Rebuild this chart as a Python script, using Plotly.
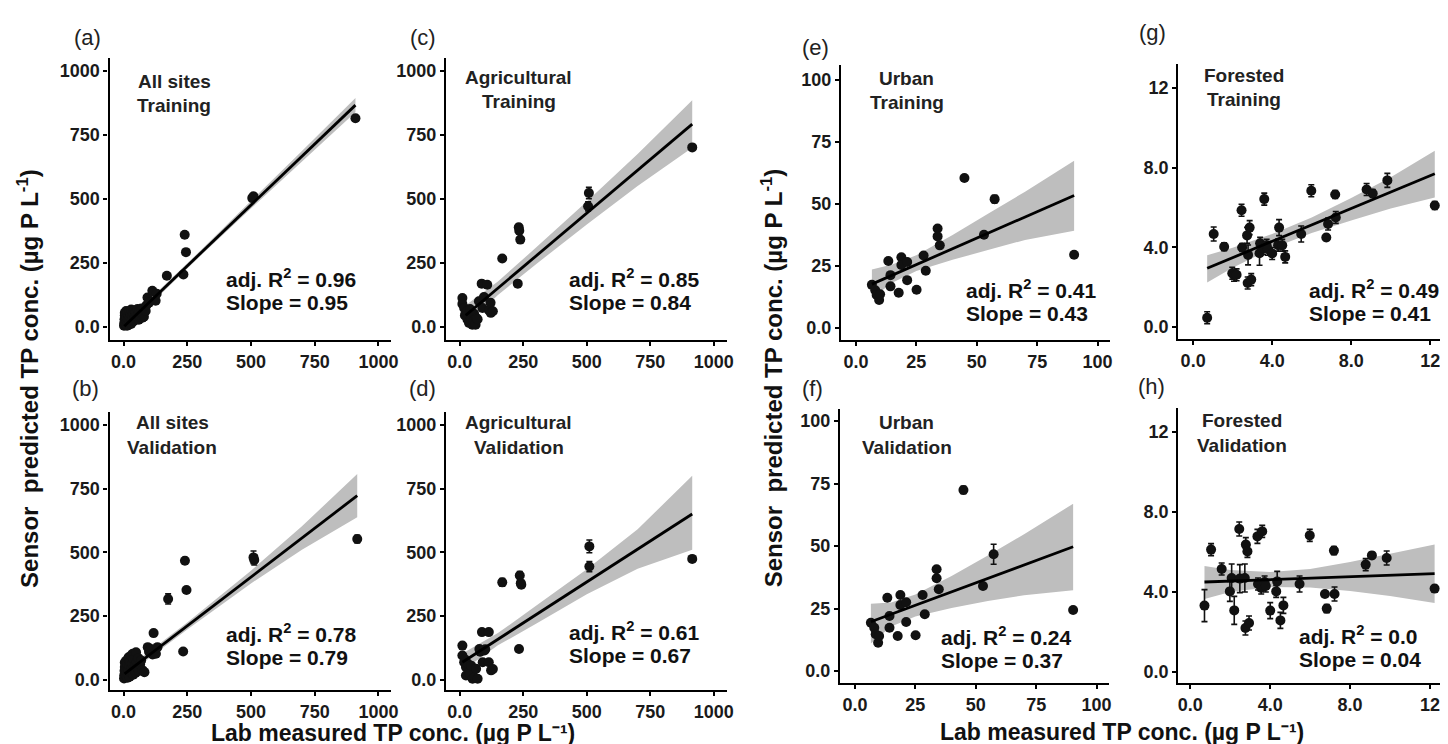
import plotly.graph_objects as go

W, H = 1448, 744
FONT = "Liberation Sans, Arial, Helvetica, sans-serif"

# ---------------- data ----------------
# (a) All sites - Training
a_lab = [2, 3, 4, 5, 5, 6, 7, 8, 9, 10, 10, 12, 12, 14, 15, 16, 18, 20, 20, 22, 24, 25, 28, 30, 30, 33, 35,
         38, 40, 42, 45, 48, 50, 55, 58, 60, 62, 65, 70, 74, 75, 80, 87, 90, 94, 100, 113, 126, 130,
         170, 235, 245, 240, 505, 510, 910]
a_pred = [5, 15, 30, 45, 55, 8, 20, 35, 50, 12, 62, 25, 40, 5, 55, 18, 30, 45, 8, 60, 22, 38, 50, 12, 68, 30, 45,
          55, 22, 65, 40, 58, 30, 70, 48, 28, 62, 38, 72, 36, 55, 40, 62, 85, 115, 95, 141, 102, 130,
          200, 205, 292, 360, 503, 510, 815]
a_err = [2] * 49 + [4, 4, 5, 5, 8, 8, 6]
a_fit_x = [3, 910]
a_fit_y = [3, 866]
a_band_x = [3, 100, 300, 500, 700, 910]
a_band_lo = [-10, 84, 276, 462, 645, 838]
a_band_hi = [16, 106, 296, 490, 687, 894]

# (b) All sites - Validation
b_lab = [2, 3, 4, 5, 5, 6, 7, 8, 9, 10, 11, 12, 14, 15, 16, 18, 20, 20, 22, 24, 25, 28, 30, 32, 35, 36, 38,
         40, 42, 45, 48, 49, 52, 55, 58, 60, 65, 69, 75, 82, 95, 100, 107, 114, 118, 127, 133,
         175, 234, 241, 247, 510, 513, 917]
b_pred = [5, 18, 35, 50, 68, 10, 25, 42, 58, 75, 15, 30, 48, 62, 8, 22, 40, 88, 55, 12, 70, 30, 95, 48, 62, 102, 20,
          80, 40, 55, 28, 108, 70, 45, 85, 35, 60, 76, 37, 30, 128, 110, 121, 99, 183, 102, 128,
          317, 111, 467, 352, 480, 470, 552]
b_err = [2] * 47 + [20, 6, 12, 10, 25, 20, 15]
b_fit_x = [4, 917]
b_fit_y = [23, 722]
b_band_x = [4, 100, 250, 500, 700, 917]
b_band_lo = [5, 84, 197, 378, 510, 637]
b_band_hi = [41, 110, 225, 428, 602, 807]

# (c) Agricultural - Training
c_lab = [10, 10, 17, 20, 23, 28, 30, 36, 40, 42, 45, 49, 52, 56, 62, 65, 70, 75, 86, 89, 95, 108, 115, 121,
         122, 130, 167, 228, 232, 234, 238, 505, 508, 915]
c_pred = [113, 90, 74, 45, 55, 60, 29, 16, 70, 40, 25, 9, 20, 51, 9, 35, 30, 100, 169, 74, 117, 165, 64, 94,
          55, 61, 267, 169, 389, 376, 341, 471, 523, 701]
c_err = [3] * 26 + [6, 5, 12, 10, 6, 18, 22, 8]
c_fit_x = [23, 915]
c_fit_y = [45, 792]
c_band_x = [23, 150, 300, 500, 700, 915]
c_band_lo = [5, 125, 245, 400, 550, 700]
c_band_hi = [85, 177, 310, 490, 675, 885]

# (d) Agricultural - Validation
d_lab = [10, 10, 17, 20, 24, 24, 30, 37, 40, 45, 50, 57, 64, 70, 77, 80, 87, 90, 97, 100, 114, 114, 123,
         130, 167, 233, 236, 240, 242, 510, 510, 915]
d_pred = [134, 95, 69, 80, 50, 17, 65, 30, 25, 55, 4, 10, 43, 4, 121, 110, 187, 69, 115, 120, 187, 69, 37,
          42, 382, 121, 409, 379, 373, 444, 523, 474]
d_err = [3] * 24 + [15, 5, 15, 8, 8, 20, 25, 10]
d_fit_x = [10, 915]
d_fit_y = [69, 650]
d_band_x = [10, 150, 300, 500, 700, 915]
d_band_lo = [35, 135, 220, 335, 435, 510]
d_band_hi = [103, 183, 290, 433, 590, 800]

# (e)/(f) Urban - shared lab values
urban_lab = [6.6, 8.0, 8.6, 9.6, 10.0, 13.4, 14.3, 14.3, 17.7, 18.8, 18.8, 21.2, 21.2, 25.1, 28.0, 28.9,
             33.8, 33.8, 34.7, 44.9, 53.0, 57.4, 90.3]
e_pred = [17.4, 15.2, 13.3, 11.3, 13.6, 27.0, 21.3, 16.8, 14.2, 28.5, 25.4, 19.3, 26.6, 15.4, 29.2, 23.1,
          40.1, 36.9, 33.3, 60.4, 37.6, 51.9, 29.5]
e_err = [0.8] * 21 + [1.5, 0.8]
e_fit_x = [6.6, 90.3]
e_fit_y = [17.7, 53.4]
e_band_x = [6.6, 15, 25, 40, 55, 70, 90.3]
e_band_lo = [12.0, 18.2, 23.0, 27.5, 31.5, 35.5, 39.2]
e_band_hi = [23.6, 25.6, 29.3, 37.5, 46.2, 54.9, 67.4]

f_pred = [19.3, 17.3, 14.7, 11.3, 14.0, 29.3, 22.0, 17.3, 14.0, 30.4, 26.4, 19.6, 27.5, 14.3, 30.4, 22.7,
          40.7, 37.1, 32.7, 72.4, 34.0, 46.7, 24.4]
f_err = [0.8] * 19 + [1.5, 0.8, 4.0, 0.8]
f_fit_x = [6.6, 90.3]
f_fit_y = [19.7, 49.7]
f_band_x = [6.6, 15, 25, 40, 55, 70, 90.3]
f_band_lo = [11.0, 17.8, 21.8, 25.2, 28.0, 30.3, 32.3]
f_band_hi = [26.9, 27.4, 30.6, 38.0, 46.2, 54.7, 66.9]

# (g)/(h) Forested - shared lab values
forest_lab = [0.71, 1.04, 1.57, 1.98, 2.07, 2.2, 2.45, 2.48, 2.73, 2.76, 2.78, 2.86, 2.94, 3.36, 3.39, 3.55,
              3.6, 3.72, 3.78, 4.0, 4.3, 4.35, 4.51, 4.66, 5.47, 5.98, 6.74, 6.83, 7.19, 7.22, 8.78, 9.09,
              9.83, 12.23]
g_pred = [0.47, 4.67, 4.03, 2.7, 2.6, 2.62, 5.86, 3.99, 4.6, 2.21, 3.62, 4.99, 2.38, 3.7, 4.2, 3.94,
          6.42, 4.1, 3.9, 3.69, 4.11, 4.99, 4.1, 3.52, 4.67, 6.84, 4.49, 5.17, 6.65, 5.5, 6.9, 6.7,
          7.36, 6.1]
g_err = [0.3, 0.35, 0.2, 0.3, 0.3, 0.3, 0.3, 0.2, 0.4, 0.3, 0.5, 0.35, 0.3, 0.6, 0.3, 0.3, 0.3, 0.3, 0.3,
         0.3, 0.3, 0.4, 0.3, 0.3, 0.4, 0.3, 0.15, 0.3, 0.2, 0.3, 0.3, 0.2, 0.35, 0.2]
g_fit_x = [0.71, 12.23]
g_fit_y = [2.95, 7.69]
g_band_x = [0.71, 2, 4, 6, 8, 10, 12.23]
g_band_lo = [2.24, 2.98, 3.95, 4.72, 5.35, 5.95, 6.5]
g_band_hi = [3.60, 3.98, 4.67, 5.50, 6.48, 7.52, 8.85]

h_pred = [3.32, 6.12, 5.15, 4.03, 4.7, 3.08, 7.15, 4.67, 4.7, 2.2, 6.37, 6.03, 2.45, 6.78, 4.4, 4.2,
          7.03, 4.5, 4.3, 3.07, 4.03, 4.53, 2.58, 3.33, 4.4, 6.83, 3.9, 3.17, 6.07, 3.9, 5.37, 5.83,
          5.7, 4.17]
h_err = [0.8, 0.3, 0.3, 0.5, 0.7, 0.7, 0.35, 0.7, 0.7, 0.35, 0.35, 0.3, 0.35, 0.35, 0.3, 0.3, 0.3, 0.3,
         0.3, 0.4, 0.3, 0.5, 0.4, 0.4, 0.4, 0.3, 0.15, 0.2, 0.2, 0.35, 0.3, 0.15, 0.35, 0.15]
h_fit_x = [0.71, 12.23]
h_fit_y = [4.5, 4.92]
h_band_x = [0.71, 2, 4, 6, 8, 10, 12.23]
h_band_lo = [3.65, 4.0, 4.25, 4.22, 4.05, 3.8, 3.45]
h_band_hi = [5.3, 5.1, 5.0, 5.15, 5.5, 5.9, 6.37]

# tick labels
big_ticks = [0, 250, 500, 750, 1000]
big_ticktext = ["0.0", "250", "500", "750", "1000"]
urban_ticks = [0, 25, 50, 75, 100]
urban_ticktext = ["0.0", "25", "50", "75", "100"]
forest_ticks = [0, 4, 8, 12]
forest_ticktext = ["0.0", "4.0", "8.0", "12"]

panel_labels = ["(a)", "(b)", "(c)", "(d)", "(e)", "(f)", "(g)", "(h)"]
panel_titles = [("All sites", "Training"), ("All sites", "Validation"),
                ("Agricultural", "Training"), ("Agricultural", "Validation"),
                ("Urban", "Training"), ("Urban", "Validation"),
                ("Forested", "Training"), ("Forested", "Validation")]
adj_r2 = ["0.96", "0.78", "0.85", "0.61", "0.41", "0.24", "0.49", "0.0"]
slopes = ["0.95", "0.79", "0.84", "0.67", "0.43", "0.37", "0.41", "0.04"]

# ---------------- layout geometry (pixels) ----------------
panels = [
    dict(lab=a_lab, pred=a_pred, err=a_err, fx=a_fit_x, fy=a_fit_y, bx=a_band_x, blo=a_band_lo, bhi=a_band_hi,
         box=(102, 385, 50, 332), xr=[-55, 1050], yr=[-51, 1050], tv=big_ticks, tt=big_ticktext,
         lab_pos=(80, 30), title_pos=(167, 73), stat_pos=(217, 270)),
    dict(lab=b_lab, pred=b_pred, err=b_err, fx=b_fit_x, fy=b_fit_y, bx=b_band_x, blo=b_band_lo, bhi=b_band_hi,
         box=(102, 385, 404, 682), xr=[-55, 1050], yr=[-40, 1050], tv=big_ticks, tt=big_ticktext,
         lab_pos=(78, 380), title_pos=(165, 415), stat_pos=(217, 625)),
    dict(lab=c_lab, pred=c_pred, err=c_err, fx=c_fit_x, fy=c_fit_y, bx=c_band_x, blo=c_band_lo, bhi=c_band_hi,
         box=(440, 722, 50, 332), xr=[-55, 1050], yr=[-51, 1050], tv=big_ticks, tt=big_ticktext,
         lab_pos=(417, 30), title_pos=(513, 69), stat_pos=(562, 270)),
    dict(lab=d_lab, pred=d_pred, err=d_err, fx=d_fit_x, fy=d_fit_y, bx=d_band_x, blo=d_band_lo, bhi=d_band_hi,
         box=(440, 722, 404, 682), xr=[-55, 1050], yr=[-40, 1050], tv=big_ticks, tt=big_ticktext,
         lab_pos=(417, 380), title_pos=(513, 415), stat_pos=(562, 623)),
    dict(lab=urban_lab, pred=e_pred, err=e_err, fx=e_fit_x, fy=e_fit_y, bx=e_band_x, blo=e_band_lo, bhi=e_band_hi,
         box=(837, 1107, 57, 332), xr=[-6.2, 105], yr=[-4.8, 105.9], tv=urban_ticks, tt=urban_ticktext,
         lab_pos=(811, 40), title_pos=(903, 70), stat_pos=(961, 281)),
    dict(lab=urban_lab, pred=f_pred, err=f_err, fx=f_fit_x, fy=f_fit_y, bx=f_band_x, blo=f_band_lo, bhi=f_band_hi,
         box=(836, 1106, 401, 675), xr=[-6.2, 105], yr=[-4.8, 104.8], tv=urban_ticks, tt=urban_ticktext,
         lab_pos=(808, 380), title_pos=(903, 415), stat_pos=(936, 628)),
    dict(lab=forest_lab, pred=g_pred, err=g_err, fx=g_fit_x, fy=g_fit_y, bx=g_band_x, blo=g_band_lo, bhi=g_band_hi,
         box=(1176, 1448, 56, 331), xr=[-0.75, 12.95], yr=[-0.6, 13.2], tv=forest_ticks, tt=forest_ticktext,
         lab_pos=(1150, 25), title_pos=(1242, 67), stat_pos=(1305, 281)),
    dict(lab=forest_lab, pred=h_pred, err=h_err, fx=h_fit_x, fy=h_fit_y, bx=h_band_x, blo=h_band_lo, bhi=h_band_hi,
         box=(1176, 1448, 400, 675), xr=[-0.6, 12.95], yr=[-0.55, 13.2], tv=forest_ticks, tt=forest_ticktext,
         lab_pos=(1149, 378), title_pos=(1240, 413), stat_pos=(1295, 627)),
]


def px(xp):
    return xp / W


def py(yp):
    return 1 - yp / H


fig = go.Figure()
annotations = []
layout_axes = {}

for i, p in enumerate(panels):
    k = i + 1
    xa = "x" if k == 1 else f"x{k}"
    ya = "y" if k == 1 else f"y{k}"
    # confidence ribbon
    fig.add_trace(go.Scatter(x=p["bx"], y=p["blo"], mode="lines", line=dict(width=0, color="rgba(0,0,0,0)"),
                             xaxis=xa, yaxis=ya, hoverinfo="skip", showlegend=False))
    fig.add_trace(go.Scatter(x=p["bx"], y=p["bhi"], mode="lines", line=dict(width=0, color="rgba(0,0,0,0)"),
                             fill="tonexty", fillcolor="rgb(190,190,190)",
                             xaxis=xa, yaxis=ya, hoverinfo="skip", showlegend=False))
    # points with error bars
    fig.add_trace(go.Scatter(x=p["lab"], y=p["pred"], mode="markers",
                             marker=dict(color="#111111", size=10),
                             error_y=dict(type="data", array=p["err"], color="#111111", thickness=1.6, width=3),
                             xaxis=xa, yaxis=ya, showlegend=False))
    # fit line
    fig.add_trace(go.Scatter(x=p["fx"], y=p["fy"], mode="lines", line=dict(color="black", width=2.8),
                             xaxis=xa, yaxis=ya, showlegend=False))

    x0, x1, y0, y1 = p["box"]
    axis_common = dict(showline=True, linecolor="black", linewidth=2.2, mirror=False,
                       ticks="outside", ticklen=4, tickwidth=1.5, tickcolor="black",
                       showgrid=False, zeroline=False,
                       tickfont=dict(family=FONT, size=18, color="#1a1a1a", weight="bold"),
                       tickvals=p["tv"], ticktext=p["tt"], fixedrange=True)
    layout_axes["xaxis" if k == 1 else f"xaxis{k}"] = dict(
        domain=[px(x0), px(x1)], anchor=ya, range=p["xr"], **axis_common)
    layout_axes["yaxis" if k == 1 else f"yaxis{k}"] = dict(
        domain=[py(y1), py(y0)], anchor=xa, range=p["yr"], **axis_common)

    # panel label
    lx, ly = p["lab_pos"]
    annotations.append(dict(text=panel_labels[i], x=px(lx), y=py(ly), xref="paper", yref="paper",
                            showarrow=False, xanchor="center", yanchor="middle",
                            font=dict(family=FONT, size=22, color="#222222")))
    # panel title (two lines)
    tx, ty = p["title_pos"]
    t1, t2 = panel_titles[i]
    for j, t in enumerate((t1, t2)):
        annotations.append(dict(text=t, x=px(tx), y=py(ty + 24 * j), xref="paper", yref="paper",
                                showarrow=False, xanchor="center", yanchor="middle",
                                font=dict(family=FONT, size=19, color="#222222", weight="bold")))
    # statistics
    sx, sy = p["stat_pos"]
    annotations.append(dict(text=f"adj. R<sup>2</sup> = {adj_r2[i]}", x=px(sx), y=py(sy),
                            xref="paper", yref="paper", showarrow=False, xanchor="left", yanchor="middle",
                            font=dict(family=FONT, size=21, color="#111111", weight="bold")))
    annotations.append(dict(text=f"Slope = {slopes[i]}", x=px(sx), y=py(sy + 24),
                            xref="paper", yref="paper", showarrow=False, xanchor="left", yanchor="middle",
                            font=dict(family=FONT, size=21, color="#111111", weight="bold")))

ytitle = "Sensor  predicted TP conc. (µg P L<sup>-1</sup>)"
xtitle = "Lab measured TP conc. (µg P L⁻¹)"
for (xx, yy) in [(20, 370), (768, 370)]:
    annotations.append(dict(text=ytitle, x=px(xx), y=py(yy), xref="paper", yref="paper", showarrow=False,
                            textangle=-90, xanchor="center", yanchor="middle",
                            font=dict(family=FONT, size=24, color="#111111", weight="bold")))
for (xx, yy) in [(387, 725), (1119, 724)]:
    annotations.append(dict(text=xtitle, x=px(xx), y=py(yy), xref="paper", yref="paper", showarrow=False,
                            xanchor="center", yanchor="middle",
                            font=dict(family=FONT, size=23, color="#111111", weight="bold")))

fig.update_layout(width=W, height=H, margin=dict(l=0, r=0, t=0, b=0),
                  paper_bgcolor="white", plot_bgcolor="white", showlegend=False,
                  annotations=annotations, **layout_axes)

fig.write_html("out.html", include_plotlyjs=True, config=dict(displayModeBar=False))
